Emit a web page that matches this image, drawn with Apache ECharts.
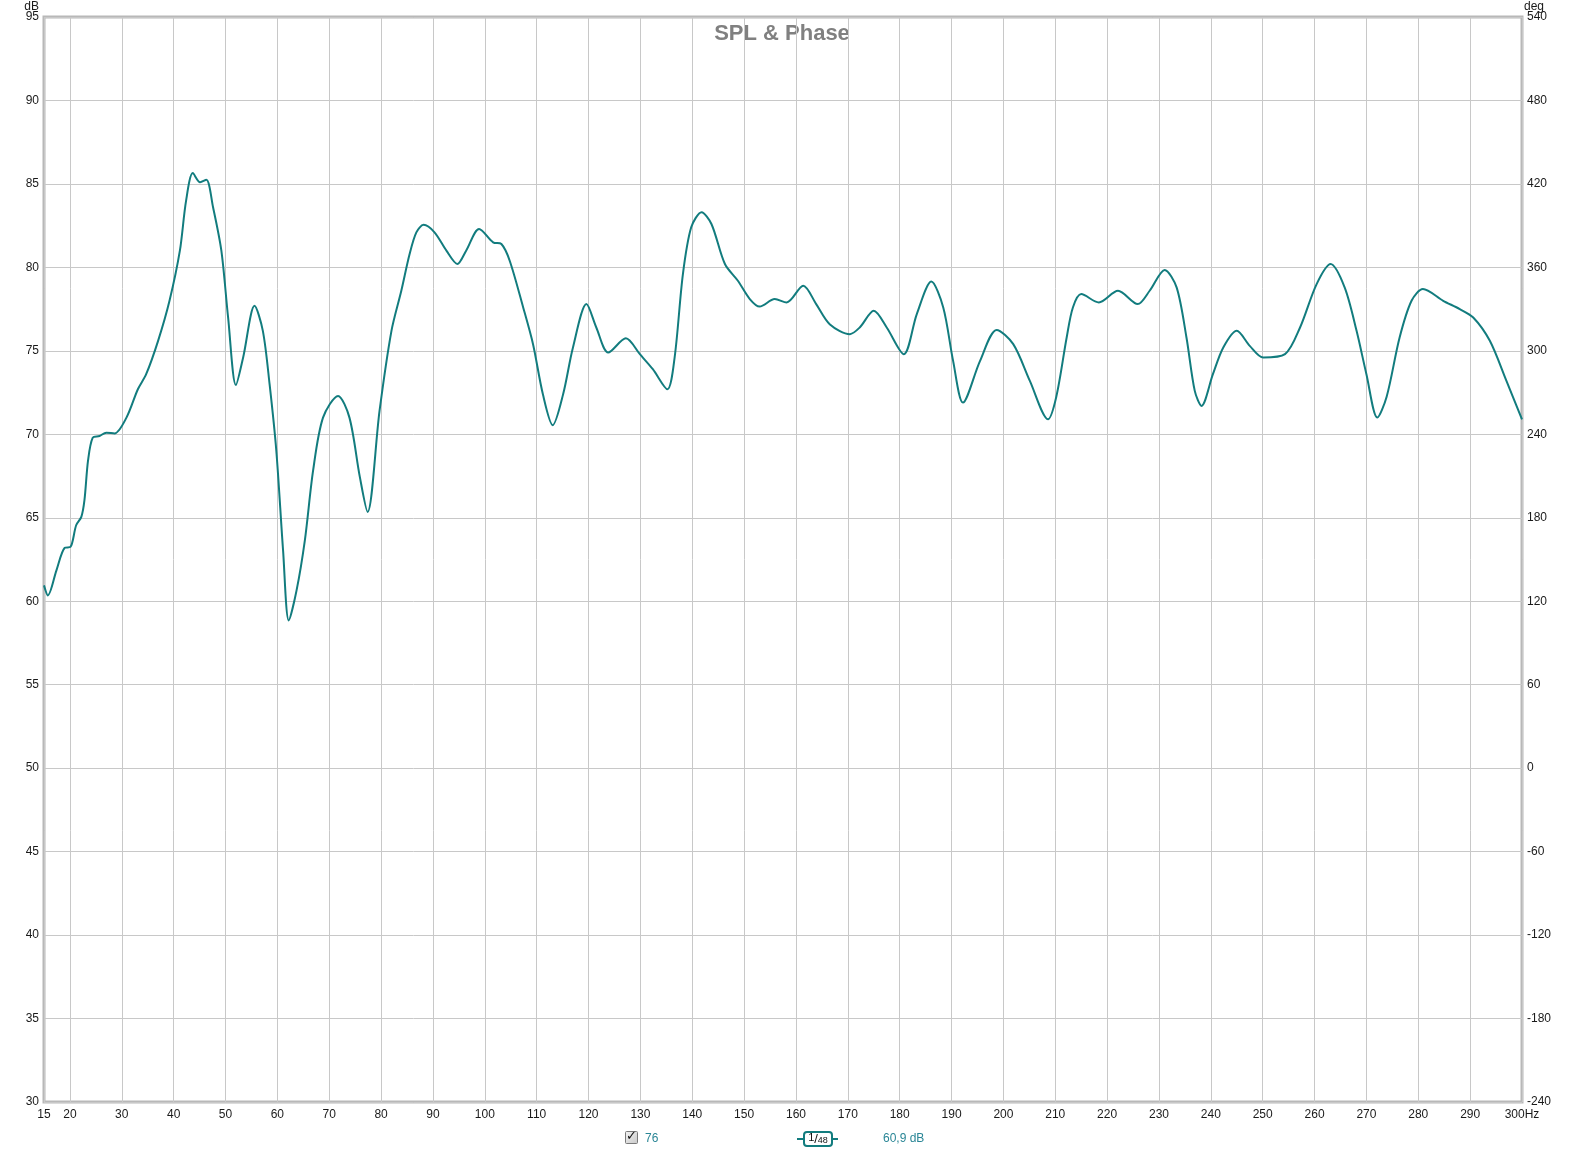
<!DOCTYPE html>
<html>
<head>
<meta charset="utf-8">
<script src="https://cdn.jsdelivr.net/npm/echarts@6/dist/echarts.min.js"></script>
<style>
html,body{margin:0;padding:0;background:#fff;}
#chart{width:1579px;height:1153px;}
</style>
</head>
<body>
<div id="chart"></div>
<script>
// ---- data ----
const freqHz = [15.0,15.75,17.4,19.0,20.1,21.2,22.2,22.8,23.5,24.4,25.7,27.0,28.6,30.9,33.1,34.7,37.0,39.2,41.2,42.4,43.7,45.1,46.3,47.6,49.2,50.5,52.0,53.4,55.6,57.2,58.5,59.8,61.1,62.2,63.7,65.3,66.9,68.8,71.7,73.9,75.9,77.4,79.7,82.0,83.9,85.5,86.8,88.2,90.3,92.6,94.7,96.4,98.9,101.6,103.2,104.8,107.4,109.3,111.2,113.1,115.1,117.0,119.6,121.5,123.8,127.2,129.9,132.4,135.2,136.6,138.2,139.8,141.8,143.7,146.3,148.8,151.1,153.0,155.9,158.2,161.4,163.9,166.5,170.4,172.3,175.0,177.5,180.8,183.3,186.1,188.4,190.3,192.2,195.5,198.7,201.9,205.1,208.6,210.2,212.2,213.4,215.0,218.4,222.1,225.9,228.2,231.1,233.4,235.3,236.9,238.2,240.4,242.4,245.0,247.5,250.1,254.3,257.2,260.4,263.1,265.8,268.1,270.0,272.1,273.9,276.4,278.7,280.9,284.8,288.0,290.6,293.8,297.0,300.0];
const splDb = [60.95,60.35,61.85,63.2,63.25,64.55,65.05,66.05,68.45,69.8,69.9,70.1,70.05,71.0,72.7,73.6,75.6,78.0,81.0,84.0,85.65,85.1,85.25,83.6,81.0,77.0,72.95,74.6,77.7,76.2,73.0,69.0,63.05,58.85,60.65,63.65,67.85,71.0,72.3,71.0,67.45,65.35,71.4,76.2,78.6,80.8,82.1,82.55,82.1,81.0,80.2,81.0,82.3,81.5,81.4,80.4,77.6,75.4,72.4,70.55,72.4,75.2,77.8,76.4,74.9,75.75,74.8,73.9,72.7,74.6,79.6,82.4,83.3,82.6,80.2,79.2,78.1,77.65,78.1,77.9,78.9,77.8,76.6,76.0,76.4,77.4,76.4,74.8,77.2,79.15,77.6,74.4,71.9,74.4,76.25,75.4,73.2,70.9,72.25,75.8,77.6,78.4,77.9,78.6,77.8,78.6,79.85,78.8,75.8,72.6,71.7,73.6,75.2,76.2,75.3,74.6,74.8,76.4,79.0,80.2,78.8,76.2,73.6,71.0,72.25,75.8,78.0,78.7,78.0,77.5,77.0,75.6,73.2,70.9];
const xTicks = [15,20,30,40,50,60,70,80,90,100,110,120,130,140,150,160,170,180,190,200,210,220,230,240,250,260,270,280,290,300];
const dbRange = [30, 95, 5];
const degRange = [-240, 540, 60];
const titleText = 'SPL & Phase';
const legendName = '76';
const legendValue = '60,9 dB';

const teal = '#127c7e';
const labelFont = {fontFamily: 'Liberation Sans, Arial, sans-serif', fontSize: 12, color: '#1a1a1a'};

const chart = echarts.init(document.getElementById('chart'), null, {renderer: 'canvas'});
chart.setOption({
  animation: false,
  backgroundColor: '#ffffff',
  grid: {left: 44, right: 57, top: 17, bottom: 51, show: true, borderColor: '#b8b8b8', borderWidth: 3, backgroundColor: '#ffffff'},
  xAxis: {
    type: 'value', min: 15, max: 300,
    axisLine: {show: false}, axisTick: {show: false, customValues: xTicks},
    splitLine: {show: true, lineStyle: {color: '#c8c8c8', width: 1}},
    axisLabel: Object.assign({customValues: xTicks, margin: 7,
      formatter: v => v === 300 ? '300Hz' : String(v)}, labelFont)
  },
  yAxis: [
    {type: 'value', min: dbRange[0], max: dbRange[1], interval: dbRange[2],
     axisLine: {show: false}, axisTick: {show: false},
     splitLine: {show: true, lineStyle: {color: '#c8c8c8', width: 1}},
     axisLabel: Object.assign({margin: 5}, labelFont)},
    {type: 'value', min: degRange[0], max: degRange[1], interval: degRange[2], position: 'right',
     axisLine: {show: false}, axisTick: {show: false}, splitLine: {show: false},
     axisLabel: Object.assign({margin: 5}, labelFont)}
  ],
  series: [{
    type: 'line', name: legendName, yAxisIndex: 0,
    data: freqHz.map((f, i) => [f, splDb[i]]),
    showSymbol: false, smooth: 0.3,
    lineStyle: {color: teal, width: 2}, z: 5
  }],
  graphic: [
    {type: 'text', x: 782, y: 34, style: {text: titleText, fill: '#808080', font: 'bold 22px "Liberation Sans", Arial, sans-serif', textAlign: 'center', textVerticalAlign: 'middle'}},
    {type: 'text', x: 39, y: 7, style: {text: 'dB', fill: '#1a1a1a', font: '12px "Liberation Sans", Arial, sans-serif', textAlign: 'right', textVerticalAlign: 'middle'}},
    {type: 'text', x: 1524, y: 7, style: {text: 'deg', fill: '#1a1a1a', font: '12px "Liberation Sans", Arial, sans-serif', textAlign: 'left', textVerticalAlign: 'middle'}},
    // legend: checkbox + name
    {type: 'rect', shape: {x: 625.5, y: 1131.5, width: 12, height: 12, r: 1},
     style: {fill: new echarts.graphic.LinearGradient(0,0,1,1,[{offset:0,color:'#f4f4f4'},{offset:1,color:'#c8c8c8'}]), stroke: '#7a7a7a', lineWidth: 1}},
    {type: 'text', x: 631.5, y: 1137, style: {text: '✓', fill: '#111', font: 'bold 13px "DejaVu Sans", sans-serif', textAlign: 'center', textVerticalAlign: 'middle'}},
    {type: 'text', x: 645, y: 1139, style: {text: legendName, fill: '#2a8696', font: '12px "Liberation Sans", Arial, sans-serif', textAlign: 'left', textVerticalAlign: 'middle'}},
    // legend line symbol with smoothing box
    {type: 'line', shape: {x1: 797, y1: 1139, x2: 804, y2: 1139}, style: {stroke: teal, lineWidth: 2}},
    {type: 'line', shape: {x1: 832, y1: 1139, x2: 838, y2: 1139}, style: {stroke: teal, lineWidth: 2}},
    {type: 'rect', shape: {x: 804, y: 1132, width: 28, height: 14, r: 3}, style: {fill: '#fff', stroke: teal, lineWidth: 2}},
    {type: 'text', x: 818, y: 1139, style: {
      text: '{a|1}{b|/}{c|48}', textAlign: 'center', textVerticalAlign: 'middle',
      rich: {
        a: {fontSize: 11, fontFamily: 'Liberation Sans', fill: '#111', verticalAlign: 'top', padding: [0,0,2,0]},
        b: {fontSize: 13, fontFamily: 'Liberation Sans', fill: '#111'},
        c: {fontSize: 9, fontFamily: 'Liberation Sans', fill: '#111', padding: [3,0,0,0]}
      }}},
    {type: 'text', x: 883, y: 1139, style: {text: legendValue, fill: '#2a8696', font: '12px "Liberation Sans", Arial, sans-serif', textAlign: 'left', textVerticalAlign: 'middle'}}
  ]
});
</script>
</body>
</html>
